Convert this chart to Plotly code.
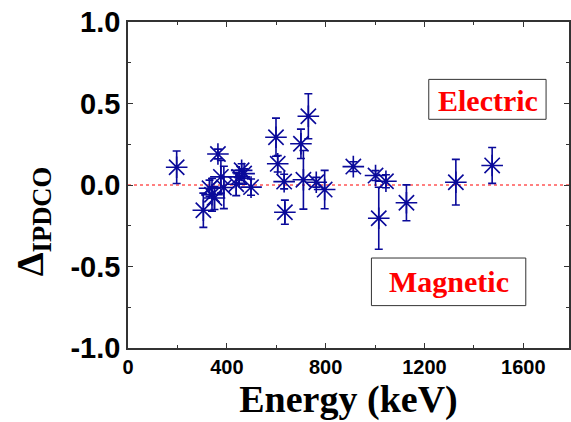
import plotly.graph_objects as go

# Data
energy = [197, 305, 330, 340, 350, 364, 376, 388, 438, 450, 460, 470, 498,
          599, 606, 632, 635, 700, 710, 730, 762, 796, 912, 1002, 1015, 1044,
          1127, 1327, 1474]
delta = [0.109, -0.155, -0.02, -0.06, -0.08, 0.19, 0.05, -0.015, 0.005, 0.05,
         0.09, 0.07, -0.013, 0.293, 0.13, 0.021, -0.167, 0.253, 0.032, 0.422,
         0.017, -0.028, 0.113, 0.058, -0.204, 0.023, -0.109, 0.017, 0.12]
err = [0.10, 0.105, 0.05, 0.10, 0.07, 0.03, 0.10, 0.13, 0.07, 0.04, 0.04,
       0.03, 0.05, 0.117, 0.05, 0.045, 0.074, 0.09, 0.18, 0.138, 0.03, 0.118,
       0.03, 0.03, 0.19, 0.04, 0.11, 0.14, 0.11]

x_ticks = [0, 400, 800, 1200, 1600]
x_ticktext = ["0", "400", "800", "1200", "1600"]
y_ticks = [-1.0, -0.5, 0.0, 0.5, 1.0]
y_ticktext = ["-1.0", "-0.5", "0.0", "0.5", "1.0"]

blue = "#0a0a9a"
axis_col = "#333333"

fig = go.Figure()
fig.add_trace(go.Scatter(
    x=energy, y=delta, mode="markers",
    marker=dict(symbol="asterisk-open", size=18, color=blue,
                line=dict(color=blue, width=1.6)),
    error_y=dict(type="data", array=err, visible=True, color=blue,
                 thickness=1.6, width=4),
    showlegend=False,
))

# zero reference line
fig.add_shape(type="line", xref="paper", x0=0, x1=1, yref="y", y0=0, y1=0,
              line=dict(color="red", width=1, dash="dot"), layer="below")

# label boxes
fig.add_shape(type="rect", xref="paper", yref="paper",
              x0=0.682, x1=0.948, y0=0.7015, y1=0.824,
              line=dict(color=axis_col, width=1), fillcolor="white")
fig.add_shape(type="rect", xref="paper", yref="paper",
              x0=0.552, x1=0.902, y0=0.130, y1=0.276,
              line=dict(color=axis_col, width=1), fillcolor="white")

label_font = dict(family="Liberation Serif", size=30, color="red", weight="bold")
fig.add_annotation(text="Electric", xref="paper", yref="paper", x=0.816, y=0.76,
                   xanchor="center", yanchor="middle", showarrow=False, font=label_font)
fig.add_annotation(text="Magnetic", xref="paper", yref="paper", x=0.7276, y=0.205,
                   xanchor="center", yanchor="middle", showarrow=False, font=label_font)

# y-axis title
fig.add_annotation(text="Δ<sub>IPDCO</sub>", xref="paper", yref="paper",
                   x=-0.2167, y=0.39, xanchor="center", yanchor="middle",
                   textangle=-90, showarrow=False,
                   font=dict(family="Liberation Serif", size=38, color="black",
                             weight="bold"))

fig.update_layout(
    width=571, height=422,
    margin=dict(l=128, r=0, t=22, b=74),
    paper_bgcolor="white", plot_bgcolor="white",
    xaxis=dict(
        range=[0, 1785], tickvals=x_ticks, ticktext=x_ticktext,
        ticks="inside", ticklen=5, tickwidth=1.2, tickcolor=axis_col,
        minor=dict(dtick=200, ticks="inside", ticklen=3, tickcolor=axis_col),
        showline=True, linecolor=axis_col, linewidth=1.5, mirror="ticks",
        showgrid=False, zeroline=False,
        tickfont=dict(family="Liberation Sans", size=20, color="black", weight="bold"),
        title=dict(text="Energy (keV)", standoff=6,
                   font=dict(family="Liberation Serif", size=38, color="black",
                             weight="bold")),
    ),
    yaxis=dict(
        range=[-1.0, 1.0], tickvals=y_ticks, ticktext=y_ticktext,
        ticks="inside", ticklen=5, tickwidth=1.2, tickcolor=axis_col,
        minor=dict(dtick=0.25, ticks="inside", ticklen=3, tickcolor=axis_col),
        showline=True, linecolor=axis_col, linewidth=1.5, mirror="ticks",
        showgrid=False, zeroline=False,
        tickfont=dict(family="Liberation Sans", size=29, color="black", weight="bold"),
    ),
)

fig.write_html("out.html")
